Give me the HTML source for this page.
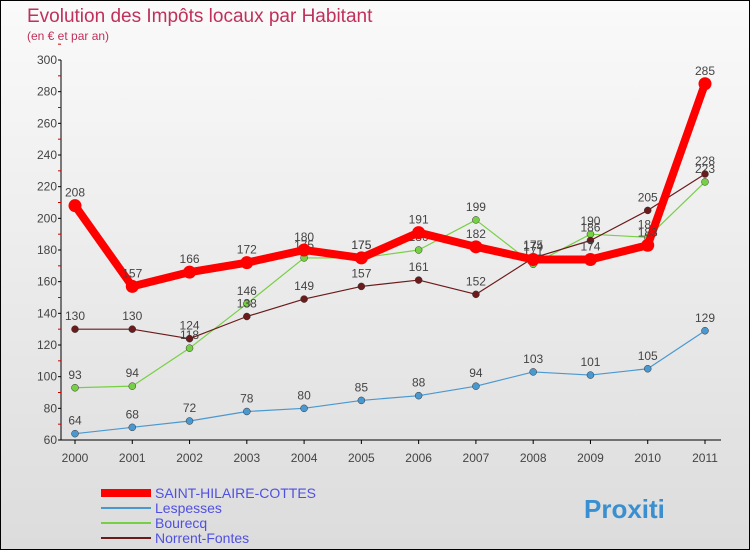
<!DOCTYPE html>
<html><head><meta charset="utf-8"><style>
body{margin:0}
#c{width:748px;height:548px;border:1px solid #000;position:relative;background:linear-gradient(#fafafa,#dcdcdc);font-family:"Liberation Sans",sans-serif;overflow:hidden}
</style></head><body>
<div id="c">
<svg id="s" width="748" height="548" xmlns="http://www.w3.org/2000/svg"></svg>
</div>
<script>
const years=["2000","2001","2002","2003","2004","2005","2006","2007","2008","2009","2010","2011"];
const yTicks=[60,80,100,120,140,160,180,200,220,240,260,280,300];
const saint=[208,157,166,172,180,175,191,182,174,174,183,285];
const lesp=[64,68,72,78,80,85,88,94,103,101,105,129];
const bour=[93,94,118,146,175,175,180,199,171,190,188,223];
const norr=[130,130,124,138,149,157,161,152,175,186,205,228];
const names=["SAINT-HILAIRE-COTTES","Lespesses","Bourecq","Norrent-Fontes"];
const NS="http://www.w3.org/2000/svg",s=document.getElementById('s');
const X=i=>74+i*(630/11), Y=v=>439-(v-60)*(380/240);
function el(t,a,p){const e=document.createElementNS(NS,t);for(const k in a)e.setAttribute(k,a[k]);(p||s).appendChild(e);return e;}
let t=el('text',{x:26,y:21,fill:'#c0305a','font-size':19});t.textContent='Evolution des Impôts locaux par Habitant';

t=el('text',{x:26,y:39,fill:'#c0305a','font-size':12});t.textContent='(en € et par an)';

el('line',{x1:60,y1:Y(300),x2:60,y2:Y(60),stroke:'#000'});
el('line',{x1:60,y1:Y(60),x2:720,y2:Y(60),stroke:'#000'});
yTicks.forEach(v=>{el('line',{x1:57,x2:60,y1:Y(v),y2:Y(v),stroke:'#000'});
el('line',{x1:57,x2:60,y1:Y(v+10),y2:Y(v+10),stroke:'#c00'});
const l=el('text',{x:56,y:Y(v)+4,'text-anchor':'end','font-size':12,fill:'#444'});l.textContent=v;
});
years.forEach((y,i)=>{el('line',{x1:X(i),x2:X(i),y1:Y(60),y2:Y(60)+4,stroke:'#000'});
const l=el('text',{x:X(i),y:Y(60)+22,'text-anchor':'middle','font-size':12,fill:'#444'});l.textContent=y;
});
function series(d,col,w,r,name){const g=el('g',{});
el('polyline',{points:d.map((v,i)=>X(i)+','+Y(v)).join(' '),fill:'none',stroke:col,'stroke-width':w,'stroke-linejoin':'round'},g);
d.forEach((v,i)=>{const c=el('circle',{cx:X(i),cy:Y(v),r:r,fill:col,stroke:w>3?col:'#333','stroke-width':w>3?0:0.5},g);

const l=el('text',{x:X(i),y:Y(v)-9,'text-anchor':'middle','font-size':12,fill:'#444'},g);l.textContent=v;});}
series(lesp,'#4a98d0',1.2,3.5,'series-lespesses');
series(bour,'#77d044',1.2,3.5,'series-bourecq');
series(norr,'#6b1b1b',1.2,3.5,'series-norrent-fontes');
series(saint,'#ff0000',8,6.5,'series-saint-hilaire-cottes');
const cols=['#ff0000','#4a98d0','#77d044','#6b1b1b'],ws=[8,2,2,2];
names.forEach((n,i)=>{const g=el('g',{});
el('line',{x1:100,x2:150,y1:492+i*15,y2:492+i*15,stroke:cols[i],'stroke-width':ws[i]},g);
const l=el('text',{x:154,y:497+i*15,'font-size':14,fill:'#5050e0'},g);l.textContent=n;});
const lg=el('text',{x:583,y:517,'font-size':26,'font-weight':'bold',fill:'#3a8fd0'});lg.textContent='Proxiti';

</script>
</body></html>
